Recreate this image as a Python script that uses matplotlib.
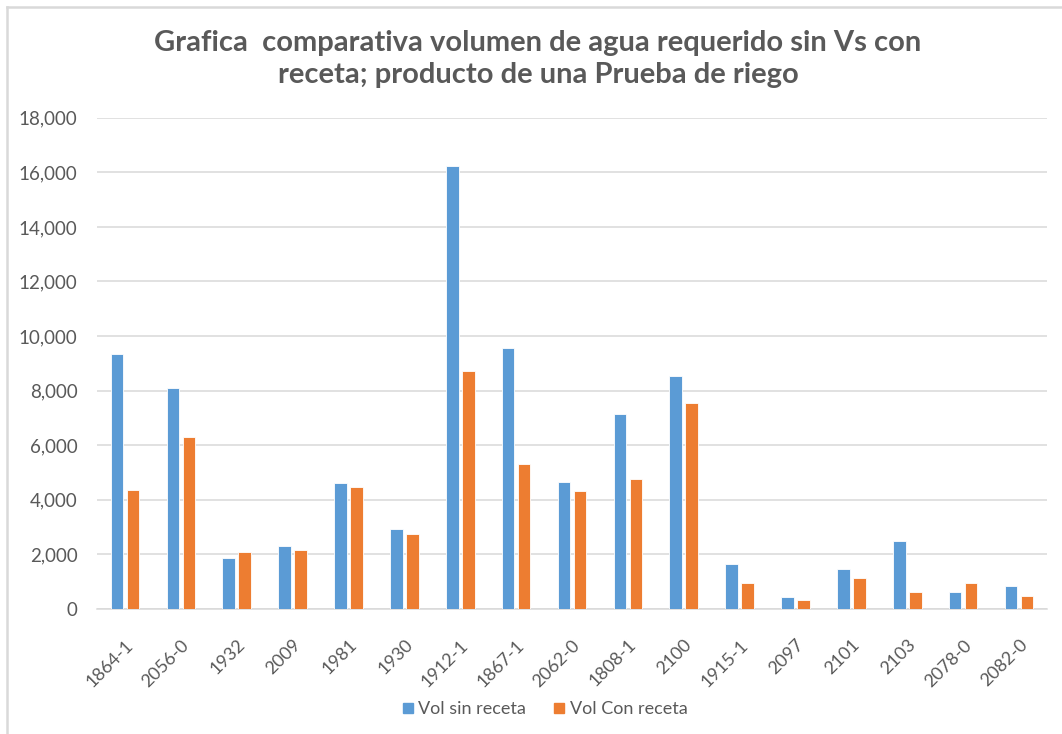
import matplotlib
matplotlib.use("Agg")
import matplotlib.pyplot as plt
import numpy as np
from matplotlib.ticker import FuncFormatter
from matplotlib.lines import Line2D

categories = ["1864-1", "2056-0", "1932", "2009", "1981", "1930", "1912-1", "1867-1",
              "2062-0", "1808-1", "2100", "1915-1", "2097", "2101", "2103", "2078-0", "2082-0"]
vol_sin_receta = [9330, 8095, 1855, 2320, 4615, 2920, 16230, 9560, 4650, 7145, 8545,
                  1660, 450, 1480, 2505, 620, 830]
vol_con_receta = [4370, 6310, 2075, 2175, 4480, 2735, 8720, 5325, 4335, 4760, 7535,
                  940, 340, 1125, 620, 940, 490]
series_names = ["Vol sin receta", "Vol Con receta"]
title = "Grafica  comparativa volumen de agua requerido sin Vs con\nreceta; producto de una Prueba de riego"

plt.rcParams['font.family'] = ['Lato', 'DejaVu Sans']
W, H = 1062, 734
fig = plt.figure(figsize=(W / 100, H / 100), dpi=100)
ax = fig.add_axes([97 / W, (H - 609) / H, (1047 - 97) / W, (609 - 117.7) / H])

x = np.arange(len(categories))
bw = 0.225
off = 0.143
blue = "#5B9BD5"
orange = "#ED7D31"
ax.bar(x - off, vol_sin_receta, bw, color=blue, edgecolor="white", linewidth=0.6, zorder=3, label=series_names[0])
ax.bar(x + off, vol_con_receta, bw, color=orange, edgecolor="white", linewidth=0.6, zorder=3, label=series_names[1])

ax.set_xlim(-0.5, len(categories) - 0.5)
ax.set_ylim(0, 18000)
ax.set_yticks(np.arange(0, 18001, 2000))
ax.yaxis.set_major_formatter(FuncFormatter(lambda v, p: f"{int(v):,}"))
ax.grid(axis="y", color="#d9d9d9", linewidth=1.1, zorder=0)
for s in ["top", "right", "left"]:
    ax.spines[s].set_visible(False)
ax.spines["bottom"].set_color("#d9d9d9")
ax.spines["bottom"].set_linewidth(1.1)
ax.tick_params(axis="both", length=0, colors="#595959")
ax.tick_params(axis="y", labelsize=13.5, pad=14)
ax.set_xticks(x)
ax.set_xticklabels(categories, rotation=45, ha="right", rotation_mode="anchor", fontsize=13)
ax.tick_params(axis="x", pad=20)

fig.text(538 / W, 1 - 59 / H, title, ha="center", va="center", fontsize=21,
         fontweight="bold", color="#595959", linespacing=1.27)

handles = [Line2D([], [], marker="s", linestyle="none", markersize=7, color=blue),
           Line2D([], [], marker="s", linestyle="none", markersize=7, color=orange)]
fig.legend(handles, series_names, loc="center", bbox_to_anchor=(543 / W, 1 - 709 / H), ncol=2,
           frameon=False, fontsize=13, labelcolor="#595959", handletextpad=0.1,
           columnspacing=1.3, handlelength=1.0)

# partial chart border (left and top)
fig.add_artist(Line2D([7 / W, 7 / W], [0, 1 - 7 / H], transform=fig.transFigure, color="#d9d9d9", linewidth=1.8))
fig.add_artist(Line2D([7 / W, 1], [1 - 7 / H, 1 - 7 / H], transform=fig.transFigure, color="#d9d9d9", linewidth=1.8))

fig.savefig("out.png", dpi=100, facecolor="white")
